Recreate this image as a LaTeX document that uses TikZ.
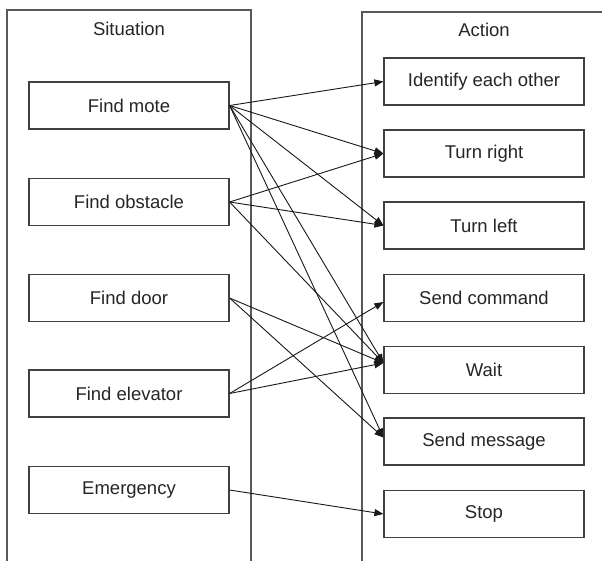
\documentclass[tikz,border=0pt]{standalone}
\usepackage{fontspec}
\setmainfont{Liberation Sans}
\usetikzlibrary{arrows.meta}

\begin{document}
\begin{tikzpicture}[x=1pt,y=-1pt,
  every node/.style={font=\fontsize{18.5}{20}\selectfont, text=black!85},
  frame/.style={draw=black!65, line width=1.2pt},
  item/.style={draw=black!75, line width=1.2pt, minimum width=200pt,
    minimum height=47pt, inner sep=0pt},
  link/.style={draw=black!90, line width=0.9pt,
    -{Triangle[length=9pt,width=7pt]}}]

% page area; the two column frames run past it
\clip (0,0) rectangle (602,560);
\fill[white] (0,0) rectangle (602,560);

% column frames
\draw[frame] (7,10) rectangle (251,575);
\draw[frame] (362,12) rectangle (615,575);
\node (sit) at (129,29) {Situation};
\node (act) at (484,30) {Action};

% situations
\node[item] (mote) at (129,105.5) {Find mote};
\node[item] (obst) at (129,202) {Find obstacle};
\node[item] (door) at (129,298) {Find door};
\node[item] (elev) at (129,393.5) {Find elevator};
\node[item] (emer) at (129,490) {Emergency};

% actions
\node[item] (ident) at (484,81.5) {Identify each other};
\node[item] (right) at (484,153.5) {Turn right};
\node[item] (left) at (484,225.5) {Turn left};
\node[item] (cmd) at (484,298) {Send command};
\node[item] (wait) at (484,370) {Wait};
\node[item] (msg) at (484,441.5) {Send message};
\node[item] (stop) at (484,514) {Stop};

% situation -> action links
\draw[link] (mote.east) -- (ident.west);
\draw[link] (mote.east) -- (right.west);
\draw[link] (mote.east) -- (left.west);
\draw[link] (mote.east) -- ([yshift=7pt]wait.west);
\draw[link] (mote.east) -- ([yshift=4pt]msg.west);

\draw[link] (obst.east) -- (right.west);
\draw[link] (obst.east) -- (left.west);
\draw[link] (obst.east) -- ([yshift=7pt]wait.west);

\draw[link] (door.east) -- ([yshift=7pt]wait.west);
\draw[link] (door.east) -- ([yshift=4pt]msg.west);

\draw[link] (elev.east) -- ([yshift=-4pt]cmd.west);
\draw[link] (elev.east) -- ([yshift=7pt]wait.west);

\draw[link] (emer.east) -- (stop.west);
\end{tikzpicture}
\end{document}
